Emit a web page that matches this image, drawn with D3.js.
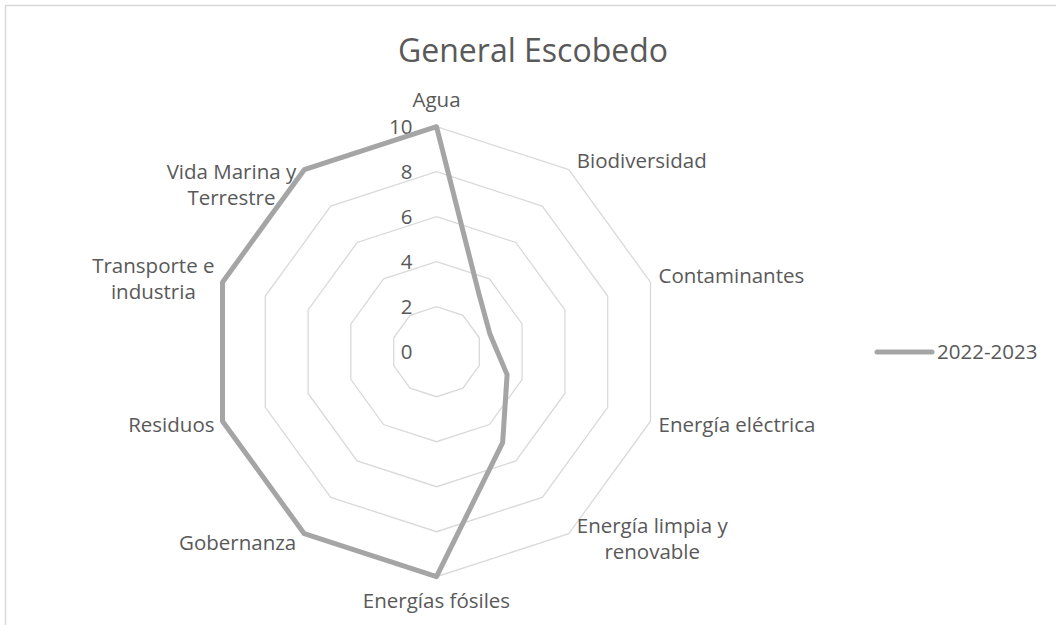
<!DOCTYPE html>
<html>
<head>
<meta charset="utf-8">
<script src="https://cdnjs.cloudflare.com/ajax/libs/d3/7.8.5/d3.min.js"></script>
<style>
  body { margin:0; background:white; }
  text { font-family:"Open Sans", sans-serif; fill:#595959; }
</style>
</head>
<body>
<svg id="graph"></svg>
<script>
// data
var categories = ["Agua", "Biodiversidad", "Contaminantes", "Energía eléctrica",
                  "Energía limpia y renovable", "Energías fósiles", "Gobernanza",
                  "Residuos", "Transporte e industria", "Vida Marina y Terrestre"];
var labelLines = [["Agua"], ["Biodiversidad"], ["Contaminantes"], ["Energía eléctrica"],
                  ["Energía limpia y", "renovable"], ["Energías fósiles"], ["Gobernanza"],
                  ["Residuos"], ["Transporte e", "industria"], ["Vida Marina y", "Terrestre"]];
var seriesName = "2022-2023";
var values = [10, 3.2, 2.5, 3.3, 5, 10, 10, 10, 10, 10];
var ticks = [0, 2, 4, 6, 8, 10];
var title = "General Escobedo";

// small layout nudges for the wrapped labels (Excel places them a bit off the rule)
var labelNudge = [[0,0],[0,0],[0,-3],[0,0],[0,-4],[0,0],[0,0],[0,0],[0,0],[0,24]];

var drawChart = function(svgSelector)
{
  var screen = {width:1056, height:625};
  var center = {x:436.5, y:351.7};
  var radius = 225;
  var fontSize = 20.5;
  var lineHeight = 26;

  var svg = d3.select(svgSelector)
              .attr("width", screen.width)
              .attr("height", screen.height);

  // chart area border (only top and left visible)
  svg.append("rect")
     .attr("x", 5.5).attr("y", 5.5)
     .attr("width", 1200).attr("height", 800)
     .attr("fill", "white")
     .style("stroke", "#d9d9d9")
     .style("stroke-width", 1.5);

  var rScale = d3.scaleLinear()
                 .domain([0, 10])
                 .range([0, radius]);

  var angleScale = d3.scaleLinear()
                     .domain([0, categories.length])
                     .range([0, 2*Math.PI]);

  var pointAt = function(i, v) {
    var a = angleScale(i);
    return [center.x + rScale(v)*Math.sin(a), center.y - rScale(v)*Math.cos(a)];
  };

  var plot = svg.append("g").classed("plot", true);

  // grid rings
  plot.selectAll("path.ring")
      .data(ticks.filter(function(t){ return t > 0; }))
      .enter()
      .append("path")
      .classed("ring", true)
      .attr("d", function(t){
        return d3.line()(categories.map(function(c, i){ return pointAt(i, t); })) + "Z";
      })
      .attr("fill", "none")
      .style("stroke", "#d9d9d9")
      .style("stroke-width", 1.3);

  // tick labels
  plot.selectAll("text.tick")
      .data(ticks)
      .enter()
      .append("text")
      .classed("tick", true)
      .attr("x", center.x - 24)
      .attr("y", function(t){ return center.y - rScale(t); })
      .attr("dy", "0.35em")
      .attr("text-anchor", "end")
      .attr("font-size", fontSize)
      .text(function(t){ return t; });

  // series line
  plot.append("path")
      .datum(values)
      .attr("d", function(d){
        return d3.line()(d.map(function(v, i){ return pointAt(i, v); })) + "Z";
      })
      .attr("fill", "none")
      .style("stroke", "#a5a5a5")
      .style("stroke-width", 5)
      .style("stroke-linejoin", "round");

  // category labels
  var labels = plot.selectAll("g.cat")
                   .data(labelLines)
                   .enter()
                   .append("g")
                   .classed("cat", true);

  labels.each(function(lines, i){
    var g = d3.select(this);
    var a = angleScale(i);
    var s = Math.sin(a), c = Math.cos(a);
    var p = pointAt(i, 10);
    var texts = g.selectAll("text")
                 .data(lines)
                 .enter()
                 .append("text")
                 .attr("font-size", fontSize)
                 .attr("text-anchor", "middle")
                 .attr("dy", "0.35em")
                 .text(function(d){ return d; });
    var w = 0;
    texts.each(function(){ w = Math.max(w, this.getComputedTextLength()); });
    var h = lines.length * lineHeight;

    var bx;
    if (s > 0.1) bx = p[0] + 8 + w/2;
    else if (s < -0.1) bx = p[0] - 8 - w/2;
    else bx = p[0];

    var by;
    if (c > 0.95) by = p[1] - 14 - h/2;
    else if (c < -0.95) by = p[1] + 11 + h/2;
    else by = p[1] - c*11;

    bx += labelNudge[i][0];
    by += labelNudge[i][1];

    texts.attr("x", bx)
         .attr("y", function(d, j){ return by - h/2 + lineHeight/2 + j*lineHeight; });
  });

  // title
  svg.append("text")
     .attr("x", 533)
     .attr("y", 62)
     .attr("text-anchor", "middle")
     .attr("font-size", 32)
     .text(title);

  // legend
  var legend = svg.append("g").classed("legend", true);
  legend.append("line")
        .attr("x1", 877).attr("x2", 932)
        .attr("y1", 352).attr("y2", 352)
        .style("stroke", "#a5a5a5")
        .style("stroke-width", 5)
        .style("stroke-linecap", "round");
  legend.append("text")
        .attr("x", 937)
        .attr("y", 352)
        .attr("dy", "0.35em")
        .attr("font-size", fontSize)
        .text(seriesName);
}

drawChart("#graph");
</script>
</body>
</html>
